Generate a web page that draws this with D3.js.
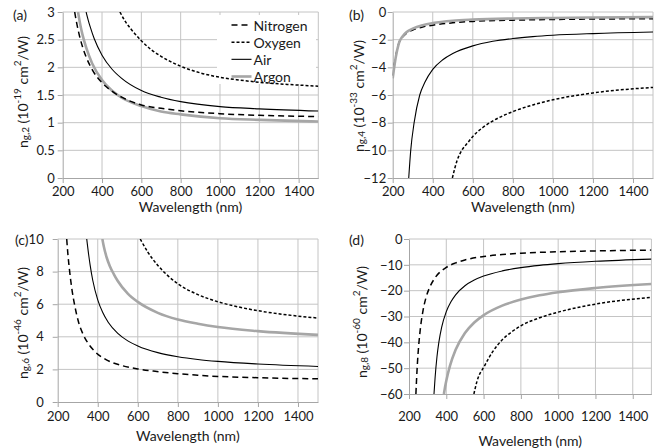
<!DOCTYPE html>
<html><head><meta charset="utf-8">
<script src="https://cdn.jsdelivr.net/npm/d3@7"></script>
<style>body{margin:0;background:#fff}</style>
</head><body>
<svg id="chart" width="672" height="448"></svg>
<script>
// ---------- Data (wavelength nm, value) ----------
const xTickValues = [200, 400, 600, 800, 1000, 1200, 1400];
const seriesNames = ["Nitrogen", "Oxygen", "Air", "Argon"];

// (a) n_g,2 (10^-19 cm^2/W)
const aTicks = [0, 0.5, 1, 1.5, 2, 2.5, 3];
const aNitrogen = [[261,3.0],[270,2.82],[280,2.65],[300,2.38],[320,2.18],[350,1.96],[400,1.72],[450,1.57],[500,1.46],[600,1.32],[700,1.26],[800,1.215],[1000,1.162],[1200,1.133],[1500,1.11]];
const aOxygen = [[491,3.0],[520,2.82],[550,2.68],[600,2.48],[650,2.32],[700,2.2],[800,2.02],[900,1.9],[1000,1.82],[1100,1.77],[1200,1.73],[1350,1.69],[1500,1.66]];
const aAir = [[319,3.0],[330,2.85],[340,2.73],[360,2.52],[400,2.22],[450,1.97],[500,1.80],[600,1.58],[700,1.46],[800,1.38],[1000,1.29],[1200,1.25],[1500,1.21]];
const aArgon = [[278,3.0],[290,2.76],[300,2.6],[320,2.35],[350,2.07],[400,1.77],[450,1.58],[500,1.45],[600,1.3],[700,1.2],[800,1.15],[1000,1.08],[1200,1.05],[1500,1.02]];

// (b) n_g,4 (10^-33 cm^2/W)
const bTicks = [-12, -10, -8, -6, -4, -2, 0];
const bNitrogen = [[200,-4.6],[215,-3.2],[230,-2.3],[250,-1.8],[270,-1.52],[300,-1.3],[350,-1.08],[400,-0.95],[500,-0.78],[600,-0.68],[800,-0.59],[1000,-0.54],[1200,-0.51],[1500,-0.48]];
const bOxygen = [[498,-12],[520,-10.8],[545,-10],[575,-9.45],[600,-9.0],[650,-8.35],[700,-7.88],[800,-7.2],[900,-6.72],[1000,-6.35],[1200,-5.85],[1500,-5.45]];
const bAir = [[280,-12],[290,-10],[307,-8],[335,-6],[360,-5.1],[400,-4.15],[450,-3.45],[500,-3.0],[600,-2.45],[700,-2.12],[800,-1.92],[900,-1.78],[1000,-1.68],[1200,-1.56],[1500,-1.45]];
const bArgon = [[200,-4.8],[215,-3.3],[230,-2.3],[250,-1.75],[270,-1.45],[300,-1.2],[350,-0.95],[400,-0.8],[500,-0.63],[600,-0.55],[800,-0.47],[1000,-0.43],[1200,-0.4],[1500,-0.37]];

// (c) n_g,6 (10^-46 cm^2/W)
const cTicks = [0, 2, 4, 6, 8, 10];
const cNitrogen = [[245,10],[250,9.2],[258,8.2],[270,7.0],[287,5.8],[303,4.95],[328,4.12],[353,3.58],[387,3.08],[437,2.63],[520,2.24],[603,2.02],[687,1.88],[800,1.74],[900,1.64],[1000,1.57],[1200,1.49],[1500,1.42]];
const cOxygen = [[612,10],[650,9.2],[700,8.38],[750,7.75],[800,7.25],[900,6.59],[1000,6.15],[1100,5.84],[1200,5.6],[1350,5.34],[1500,5.15]];
const cAir = [[345,10],[355,9.0],[362,8.4],[375,7.47],[400,6.27],[425,5.49],[453,4.88],[500,4.21],[550,3.75],[600,3.44],[700,3.03],[800,2.78],[900,2.61],[1000,2.49],[1200,2.33],[1500,2.18]];
const cArgon = [[423,10],[430,9.55],[445,8.85],[460,8.35],[480,7.85],[500,7.42],[550,6.65],[600,6.14],[700,5.47],[800,5.06],[900,4.8],[1000,4.6],[1200,4.35],[1500,4.12]];

// (d) n_g,8 (10^-60 cm^2/W)
const dTicks = [-60, -50, -40, -30, -20, -10, 0];
const dNitrogen = [[237,-60],[240,-55.2],[245,-48.3],[252,-41.2],[260,-35.3],[275,-27.8],[290,-23.0],[311,-18.7],[340,-15.0],[400,-11.0],[450,-9.26],[500,-8.11],[600,-6.77],[700,-6.0],[800,-5.52],[1000,-4.93],[1200,-4.6],[1500,-4.3]];
const dOxygen = [[548,-60],[565,-55],[606,-49],[650,-43.5],[700,-39],[750,-36],[800,-33.6],[900,-30.5],[1000,-28.3],[1200,-25.2],[1500,-22.6]];
const dAir = [[334,-60],[340,-53.6],[350,-45.6],[360,-40.0],[375,-34.2],[400,-28.1],[425,-24.3],[450,-21.6],[500,-18.1],[550,-15.9],[600,-14.35],[700,-12.35],[800,-11.08],[900,-10.2],[1000,-9.55],[1200,-8.64],[1500,-7.8]];
const dArgon = [[387,-60],[390,-58.7],[400,-54.9],[420,-49.05],[450,-42.9],[500,-36.4],[550,-32.3],[600,-29.5],[700,-25.8],[800,-23.46],[900,-21.8],[1000,-20.6],[1200,-18.96],[1500,-17.4]];

// ---------- Drawing ----------
const FONT = "Lato, 'Open Sans', sans-serif";
const GRID = "#c4c4c4", AXIS = "#a6a6a6";
const styles = {
  Nitrogen: {stroke: "#000", width: 1.5, dash: "6,4"},
  Oxygen:   {stroke: "#000", width: 1.5, dash: "3,2"},
  Air:      {stroke: "#000", width: 1.1, dash: null},
  Argon:    {stroke: "#a6a6a6", width: 2.6, dash: null}
};

const svg = d3.select("#chart");
svg.append("rect").attr("width", 672).attr("height", 448).attr("fill", "#fff");

function panel(cfg) {
  const x = d3.scaleLinear().domain([200, 1500]).range([cfg.l, cfg.r]);
  const y = d3.scaleLinear().domain([cfg.ticks[0], cfg.ticks[cfg.ticks.length - 1]]).range([cfg.b, cfg.t]);
  const g = svg.append("g");

  // gridlines
  g.selectAll(".vg").data(xTickValues.slice(1)).join("line")
    .attr("x1", d => x(d)).attr("x2", d => x(d)).attr("y1", cfg.t).attr("y2", cfg.b)
    .attr("stroke", GRID).attr("stroke-width", 1);
  g.selectAll(".hg").data(cfg.ticks.slice(1)).join("line")
    .attr("x1", cfg.l).attr("x2", cfg.r).attr("y1", d => y(d)).attr("y2", d => y(d))
    .attr("stroke", GRID).attr("stroke-width", 1);
  g.append("line").attr("x1", cfg.r).attr("x2", cfg.r).attr("y1", cfg.t).attr("y2", cfg.b)
    .attr("stroke", GRID);

  // axes
  const xa = g.append("g").attr("transform", `translate(0,${cfg.b})`)
    .call(d3.axisBottom(x).tickValues(xTickValues).tickSize(5).tickSizeOuter(0).tickPadding(cfg.xpad)
      .tickFormat(d3.format("d")));
  const ya = g.append("g").attr("transform", `translate(${cfg.l},0)`)
    .call(d3.axisLeft(y).tickValues(cfg.ticks).tickSize(5).tickSizeOuter(0).tickPadding(cfg.ypad)
      .tickFormat(d3.format("")));
  [xa, ya].forEach(a => {
    a.select(".domain").attr("stroke", AXIS);
    a.selectAll(".tick line").attr("stroke", AXIS);
    a.selectAll("text").attr("font-family", FONT).attr("font-size", 13).attr("fill", "#1a1a1a");
  });

  // legend (panel a only)
  if (cfg.legend) {
    const lg = g.append("g");
    lg.append("rect").attr("x", 217).attr("y", 15).attr("width", 99).attr("height", 69).attr("fill", "#fff");
    const ly = d3.scalePoint().domain(seriesNames).range([25, 76.5]);
    seriesNames.forEach(n => {
      const s = styles[n];
      lg.append("line").attr("x1", 231.5).attr("x2", 251.5).attr("y1", ly(n)).attr("y2", ly(n))
        .attr("stroke", s.stroke).attr("stroke-width", s.width).attr("stroke-dasharray", s.dash);
      lg.append("text").attr("x", 253.5).attr("y", ly(n)).attr("dominant-baseline", "central")
        .attr("font-family", FONT).attr("font-size", 14).attr("fill", "#1a1a1a").text(n);
    });
  }

  // clip
  const cid = "clip" + cfg.id;
  svg.append("clipPath").attr("id", cid).append("rect")
    .attr("x", cfg.l).attr("y", cfg.t).attr("width", cfg.r - cfg.l).attr("height", cfg.b - cfg.t);

  const line = d3.line().x(d => x(d[0])).y(d => y(d[1])).curve(d3.curveMonotoneX);
  const lines = g.append("g").attr("clip-path", `url(#${cid})`);
  cfg.order.forEach(n => {
    const s = styles[n];
    lines.append("path").datum(cfg.series[n]).attr("d", line)
      .attr("fill", "none").attr("stroke", s.stroke).attr("stroke-width", s.width)
      .attr("stroke-dasharray", s.dash).attr("stroke-linejoin", "round");
  });

  // x title
  g.append("text").attr("x", (cfg.l + cfg.r) / 2).attr("y", cfg.xTitleY).attr("text-anchor", "middle")
    .attr("dominant-baseline", "central").attr("font-family", FONT).attr("font-size", 14)
    .attr("fill", "#1a1a1a").text("Wavelength (nm)");

  // y title
  const t = g.append("text").attr("transform", `translate(${cfg.yTitleX},${cfg.yTitleY}) rotate(-90)`)
    .attr("text-anchor", "middle").attr("dominant-baseline", "central")
    .attr("font-family", FONT).attr("font-size", 14).attr("fill", "#1a1a1a");
  t.append("tspan").text("n");
  t.append("tspan").attr("font-size", 10).attr("dy", 3).text(cfg.sub);
  t.append("tspan").attr("dy", -3).text(" (10");
  t.append("tspan").attr("font-size", 10).attr("dy", -5).text(cfg.sup);
  t.append("tspan").attr("dy", 5).text(" cm");
  t.append("tspan").attr("font-size", 10).attr("dy", -5).text("2");
  t.append("tspan").attr("dy", 5).text("/W)");

  // panel label
  g.append("text").attr("x", cfg.labX).attr("y", cfg.labY).attr("dominant-baseline", "central")
    .attr("font-family", FONT).attr("font-size", 14).attr("fill", "#1a1a1a").text(cfg.label);
}

panel({id: "a", l: 62.7, r: 318.3, t: 12, b: 178, ticks: aTicks, xpad: 4, ypad: 3,
  series: {Nitrogen: aNitrogen, Oxygen: aOxygen, Air: aAir, Argon: aArgon},
  order: ["Argon", "Nitrogen", "Oxygen", "Air"], legend: true,
  xTitleY: 206, yTitleX: 21.7, yTitleY: 92, sub: "g,2", sup: "-19", label: "(a)", labX: 13, labY: 14});

panel({id: "b", l: 392.7, r: 653, t: 12, b: 178, ticks: bTicks, xpad: 4, ypad: 1.5,
  series: {Nitrogen: bNitrogen, Oxygen: bOxygen, Air: bAir, Argon: bArgon},
  order: ["Nitrogen", "Argon", "Oxygen", "Air"], legend: false,
  xTitleY: 206, yTitleX: 357.7, yTitleY: 96, sub: "g,4", sup: "-33", label: "(b)", labX: 349, labY: 14});

panel({id: "c", l: 57.7, r: 318, t: 239, b: 402, ticks: cTicks, xpad: 5, ypad: 9,
  series: {Nitrogen: cNitrogen, Oxygen: cOxygen, Air: cAir, Argon: cArgon},
  order: ["Argon", "Nitrogen", "Oxygen", "Air"], legend: false,
  xTitleY: 435, yTitleX: 21.7, yTitleY: 323, sub: "g,6", sup: "-46", label: "(c)", labX: 15, labY: 239});

panel({id: "d", l: 409, r: 651.4, t: 239, b: 394, ticks: dTicks, xpad: 13, ypad: 1.5,
  series: {Nitrogen: dNitrogen, Oxygen: dOxygen, Air: dAir, Argon: dArgon},
  order: ["Argon", "Nitrogen", "Oxygen", "Air"], legend: false,
  xTitleY: 440, yTitleX: 361, yTitleY: 322, sub: "g,8", sup: "-60", label: "(d)", labX: 349, labY: 239});
</script>
</body></html>
